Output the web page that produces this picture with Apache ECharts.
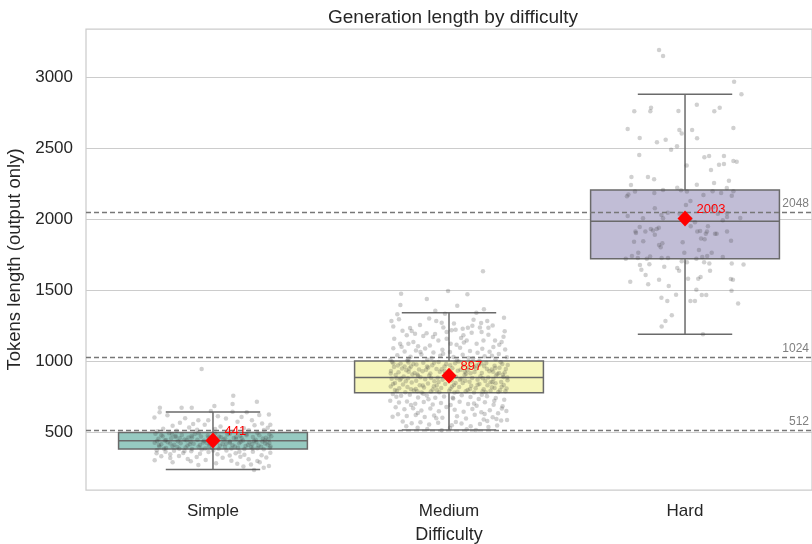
<!DOCTYPE html>
<html><head><meta charset="utf-8">
<script src="https://cdn.jsdelivr.net/npm/echarts@6/dist/echarts.min.js"></script>
<style>html,body{margin:0;padding:0;background:#fff}#c{width:812px;height:544px}</style>
</head><body><div id="c"></div>
<script>
const categories = ['Simple', 'Medium', 'Hard'];
// [min whisker, Q1, median, Q3, max whisker]
const simpleBox = [237, 380, 438, 496, 641];
const mediumBox = [515, 777, 885, 1000, 1340];
const hardBox = [1188, 1720, 1984, 2204, 2878];
const means = [441, 897, 2003];
const refLines = [512, 1024, 2048];
const yTicks = [500, 1000, 1500, 2000, 2500, 3000];
const boxColors = ['#96cac1', '#f6f6bc', '#c1bdd6'];

// jittered points: [offset from category, tokens]
const simplePoints = [
[-.048,944],[.086,756],[.186,713],[.083,697],[-.225,671],[-.226,639],[-.133,671],[-.090,671],[.006,683],[.083,643],[.143,639],[.237,624],[-.140,566],[-.062,584],[-.020,584],[.055,596],[.165,584],[.208,561],[.216,514],
[-.248,602],[-.193,618],[-.171,545],[-.118,598],[-.101,532],[-.035,551],[.021,612],[.032,539],[.104,573],[.121,606],[.131,527],[.176,548],[.232,531],[-.211,523],[-.154,509],[-.067,516],[.063,505],[.152,512],[-.236,505],[.243,552],[.009,521],[-.084,557],[.196,620],[-.009,649],
[-.244,488],[-.213,471],[-.186,492],[-.159,466],[-.132,479],[-.104,461],[-.077,486],[-.051,469],[-.022,476],[.009,490],[.034,463],[.061,482],[.088,458],[.115,474],[.142,487],[.169,465],[.196,478],[.224,460],[.247,471],
[-.231,452],[-.204,441],[-.177,457],[-.149,436],[-.121,448],[-.095,431],[-.066,445],[-.038,438],[-.011,454],[.017,429],[.045,447],[.072,434],[.099,451],[.127,440],[.154,427],[.181,446],[.209,433],[.236,449],
[-.247,424],[-.219,415],[-.192,428],[-.164,410],[-.137,421],[-.108,405],[-.082,418],[-.055,409],[-.026,423],[.002,412],[.029,403],[.056,419],[.083,407],[.111,422],[.138,401],[.166,414],[.193,406],[.221,420],[.244,398],
[-.227,396],[-.199,387],[-.171,399],[-.143,383],[-.116,392],[-.089,381],[-.061,397],[-.033,385],[-.004,391],[.024,382],[.051,395],[.078,384],[.106,389],[.133,380],[.161,394],[.188,386],[.215,379],[.241,390],
[-.158,473],[.052,455],[-.089,462],[.174,437],[-.013,417],[.121,459],[-.199,444],[.231,412],
[-.173,485],[-.061,491],[.071,488],[.188,493],[-.219,477],[-.091,472],[.026,469],[.142,478],[.239,482],[-.141,456],[-.019,461],[.098,465],[.211,455],[-.237,437],[-.112,443],[.009,446],[.117,432],[.221,441],[-.181,419],[-.042,427],[.071,425],[.183,429],[-.229,409],[-.098,414],[.041,416],[.148,408],[.239,423],[-.151,394],[-.017,400],[.093,398],[.204,396],[-.207,382],[-.048,378],[.168,384],
[-.238,372],[-.201,361],[-.165,368],[-.126,352],[-.092,365],[-.055,347],[-.019,359],[.019,344],[.057,370],[.096,351],[.133,340],[.169,362],[.206,336],[.243,355],
[-.121,366],[.112,362],[-.181,344],[.071,335],[.001,371],[-.239,350],
[-.219,329],[-.181,318],[-.144,332],[-.107,311],[-.069,325],[-.031,304],[.041,319],[.078,298],[.116,327],[.151,309],[.188,296],[.226,321],
[-.247,301],[-.171,287],[-.094,294],[.013,281],[.103,276],[.161,271],[.198,287],[.237,261],[.174,232],[-.062,268],[.215,249],[.129,258]
];
const mediumPoints = [
[.144,1632],[-.203,1474],[-.094,1437],[-.004,1493],[.078,1470],[-.206,1394],[.035,1389],[-.219,1329],[-.058,1354],[.148,1364],[.116,1340],[.233,1305],[-.244,1282],[-.212,1294],[-.017,1333],
[-.054,1282],[-.031,1270],[-.024,1237],[-.123,1254],[-.165,1232],[.058,1228],[.080,1235],[.099,1249],[.136,1268],[.162,1282],[.131,1237],[.167,1235],[.236,1209],[-.179,1181],[-.144,1192],[-.109,1176],[-.095,1195],[-.059,1190],[-.010,1204],[.011,1216],[.061,1181],[.096,1200],[.138,1204],[.167,1185],[.195,1145],[.223,1134],[-.207,1122],[-.172,1122],[-.151,1134],[-.081,1110],[-.045,1145],[-.010,1157],[.032,1115],[.075,1145],[.117,1122],[.146,1145],[.188,1099],[.238,1082],
[-.236,1090],[-.188,1068],[-.140,1075],[-.101,1088],[-.066,1060],[-.028,1079],[.004,1064],[.047,1093],[.089,1071],[.121,1058],[.172,1066],[.211,1049],[-.219,1041],[-.163,1030],[-.117,1046],[-.074,1022],[-.037,1037],[.019,1028],[.058,1044],[.102,1019],[.151,1033],[.197,1012],[.245,1027],[-.248,1008],[-.176,1003],[-.092,1011],[.033,1005],[.129,1002],[-.131,1105],[.007,1121],[.213,1115],[-.232,1157],[.051,1162],[-.197,1214],[.185,1250],[-.084,1300],[.104,1290],[-.236,1244],[.021,1265],
[-.172,1012],[.083,1022],[-.025,1052],[.182,1038],[-.121,1063],[.141,1087],[-.201,1101],[.063,1131],[-.068,1169],[.231,1171],[-.158,1211],[.028,1221],
[-.241,995],[-.205,982],[-.172,990],[-.138,976],[-.109,988],[-.071,970],[-.044,993],[-.012,979],[.026,985],[.061,968],[.093,991],[.127,974],[.158,987],[.193,966],[.226,980],[.249,972],
[-.233,958],[-.199,947],[-.161,961],[-.127,941],[-.088,955],[-.053,944],[-.019,962],[.014,950],[.049,938],[.083,957],[.115,946],[.149,963],[.181,940],[.214,952],[.241,944],
[-.246,930],[-.214,921],[-.181,935],[-.146,916],[-.112,928],[-.079,912],[-.039,925],[.004,918],[.037,931],[.072,910],[.108,923],[.139,915],[.171,929],[.205,908],[.236,920],
[-.226,902],[-.192,891],[-.155,905],[-.121,886],[-.084,898],[-.048,883],[-.009,894],[.029,889],[.066,901],[.098,880],[.133,893],[.166,884],[.199,899],[.231,887],
[-.243,875],[-.208,866],[-.174,879],[-.139,861],[-.101,872],[-.062,858],[-.027,869],[.011,863],[.053,876],[.087,855],[.121,868],[.154,860],[.188,873],[.221,852],[.248,865],
[-.229,846],[-.195,835],[-.158,849],[-.124,830],[-.089,842],[-.052,827],[-.016,839],[.021,832],[.058,845],[.094,826],[.129,838],[.163,829],[.197,843],[.232,831],
[-.247,820],[-.211,808],[-.176,817],[-.141,803],[-.106,814],[-.069,799],[-.033,811],[.006,805],[.043,818],[.079,797],[.113,809],[.147,801],[.182,815],[.216,794],[.244,806],
[-.221,789],[-.185,781],[-.149,792],[-.116,778],[-.077,786],[-.041,780],[.001,790],[.036,783],[.071,788],[.106,779],[.142,785],[.176,791],[.209,782],[.239,787],
[-.188,962],[.067,927],[-.131,897],[.184,851],[-.064,823],[.117,968],[-.222,878],[.028,846],[.212,916],[-.097,939],
[-.236,985],[-.151,979],[-.063,988],[.041,996],[.138,982],[.219,991],[-.217,969],[-.093,962],[.005,971],[.104,958],[.196,951],[-.168,948],[-.031,942],[.078,935],[.161,944],[-.247,912],[-.134,906],[-.017,909],[.091,914],[.228,903],[-.203,877],[-.076,881],[.046,869],[.143,878],[.247,884],[-.183,857],[-.044,852],[.069,861],[.176,850],[-.237,838],[-.111,827],[.013,821],[.121,833],[.223,819],[-.161,802],[-.051,796],[.089,803],[.193,810],[-.229,796],[-.134,788],[.023,779],[.156,781],[-.019,930],[.187,925],[-.171,924],
[-.238,768],[-.203,755],[-.166,762],[-.131,744],[-.094,758],[-.058,741],[-.021,750],[.018,737],[.054,760],[.091,746],[.126,733],[.161,752],[.198,739],[.234,727],
[-.109,770],[.139,763],[-.223,749],[.016,742],[.192,720],[-.087,731],[-.161,691],[.106,701],[-.011,676],[.224,665],[-.132,634],[.151,628],[-.054,598],[.201,592],[-.239,608],[.029,570],[-.181,540],[.162,577],
[-.249,721],[-.212,708],[-.178,716],[-.143,699],[-.107,712],[-.069,694],[-.034,705],[.007,690],[.045,714],[.081,698],[.117,686],[.152,709],[.189,692],[.227,681],
[-.226,674],[-.189,661],[-.152,668],[-.117,652],[-.079,665],[-.043,647],[.024,657],[.062,643],[.099,662],[.137,639],[.173,654],[.208,633],[.243,648],
[-.216,625],[-.179,613],[-.141,620],[-.103,606],[-.063,617],[-.028,600],[.034,611],[.072,596],[.109,622],[.147,589],[.185,604],[.221,581],
[-.196,575],[-.158,562],[-.121,569],[-.084,553],[-.046,566],[.012,548],[.053,561],[.092,541],[.131,556],[.167,535],[.204,547],[.246,585],
[-.133,530],[-.092,522],[.004,528],[.075,519],[.114,514],[-.031,512]
];
const hardPoints = [
[-.110,3190],[-.093,3148],[.208,2967],[.239,2878],[.050,2805],[-.215,2758],[-.144,2784],[-.147,2758],[-.028,2761],[.124,2758],[.147,2784],
[-.243,2634],[-.024,2627],[-.014,2603],[.030,2627],[.205,2641],[-.192,2570],[-.082,2559],[-.119,2540],[.051,2568],[-.034,2512],[-.059,2488],
[-.194,2451],[.007,2376],[.082,2435],[.102,2444],[.165,2444],[.205,2408],[.219,2404],[.144,2383],[.165,2387],[.110,2345],
[-.227,2296],[-.157,2296],[-.131,2280],[-.229,2239],[.186,2270],[.050,2242],[.123,2254],[-.033,2221],[.008,2193],[-.240,2172],[-.246,2160],
[-.212,2193],[-.130,2183],[-.093,2204],[-.017,2202],[.078,2169],[.117,2195],[.153,2183],[.177,2218],[.205,2195],[.198,2164],[.023,2127],
[-.243,2021],[-.178,2005],[-.128,2075],[-.100,2028],[-.093,2005],[-.073,2044],[-.023,2037],[.004,2099],[.023,2002],[.042,1977],[.120,2083],
[.139,2037],[.160,1991],[.178,2040],[.178,2014],[.234,2007],
[-.210,1913],[-.208,1901],[-.192,1944],[-.177,1843],[-.216,1840],[-.168,1913],[-.145,1930],[-.136,1920],[-.120,1930],[-.111,1939],[-.128,1890],
[-.110,1817],[-.103,1801],[-.096,1829],[-.010,1836],[.024,1949],[.052,1913],[.064,1916],[.068,1862],[.083,1857],[.088,1896],[.093,1913],
[.097,1949],[.127,1896],[.134,1896],[.178,1913],[.195,1847],[-.198,1763],[-.003,1763],[.059,1782],[.113,1763],
[-.251,1721],[-.225,1740],[-.200,1725],[-.162,1721],[-.148,1737],[-.099,1725],[-.072,1725],[.048,1721],[.073,1733],[.094,1740],[.160,1733],
[.008,1695],[-.014,1702],[-.191,1676],[-.151,1681],[.081,1695],[.103,1686],[.198,1686],[.248,1679],[-.185,1643],[-.088,1664],[-.033,1655],
[-.025,1636],[.106,1636],[-.167,1606],[-.232,1558],[-.156,1540],[-.110,1573],[-.069,1528],[.013,1580],[.056,1580],[.066,1592],[.194,1578],
[.203,1573],[.197,1495],[-.038,1467],[.048,1502],[.071,1465],[.090,1465],[-.100,1446],[-.075,1423],[.023,1423],[.042,1423],[.225,1406],
[-.056,1322],[-.083,1282],[-.099,1244],[.076,1188]
];

const FONT = '"Liberation Sans", Arial, sans-serif';
const TEXT = '#262626';
const chart = echarts.init(document.getElementById('c'));

const boxData = [simpleBox, mediumBox, hardBox].map((b, i) => [i].concat(b));
const toXY = (pts, i) => pts.map(p => [i + p[0], p[1]]);

function renderBox(params, api) {
  const i = api.value(0);
  const mn = api.value(1), q1 = api.value(2), md = api.value(3), q3 = api.value(4), mx = api.value(5);
  const hw = 0.4, cw = 0.2;
  const tl = api.coord([i - hw, q3]), br = api.coord([i + hw, q1]);
  const ln = (a, b) => ({ type: 'line', shape: { x1: a[0], y1: a[1], x2: b[0], y2: b[1] },
    style: { stroke: '#6a6a6a', lineWidth: 1.5 } });
  return { type: 'group', children: [
    ln(api.coord([i, q3]), api.coord([i, mx])),
    ln(api.coord([i, q1]), api.coord([i, mn])),
    ln(api.coord([i - cw, mx]), api.coord([i + cw, mx])),
    ln(api.coord([i - cw, mn]), api.coord([i + cw, mn])),
    { type: 'rect', shape: { x: tl[0], y: tl[1], width: br[0] - tl[0], height: br[1] - tl[1] },
      style: { fill: boxColors[i], stroke: '#6a6a6a', lineWidth: 1.5 } },
    ln(api.coord([i - hw, md]), api.coord([i + hw, md]))
  ] };
}

const ptStyle = { color: 'rgba(60,60,60,0.3)' };

chart.setOption({
  animation: false,
  backgroundColor: '#ffffff',
  textStyle: { fontFamily: FONT },
  title: { text: 'Generation length by difficulty', left: 448, top: 3, textAlign: 'center',
    textStyle: { fontFamily: FONT, fontSize: 19, fontWeight: 'normal', color: TEXT } },
  grid: { left: 86, right: 0, top: 29, bottom: 54, outerBoundsMode: 'none', containLabel: false,
    show: true, borderColor: '#cccccc', borderWidth: 1.25, backgroundColor: 'transparent' },
  xAxis: { type: 'value', min: -0.538, max: 2.538,
    name: 'Difficulty', nameLocation: 'middle', nameGap: 36,
    nameTextStyle: { fontFamily: FONT, fontSize: 18, color: TEXT },
    axisLine: { show: false }, axisTick: { show: false }, splitLine: { show: false },
    axisLabel: { customValues: [0, 1, 2], formatter: v => categories[Math.round(v)] || '',
      fontFamily: FONT, fontSize: 17, color: TEXT, margin: 13 } },
  yAxis: { type: 'value', min: 92, max: 3338,
    name: 'Tokens length (output only)', nameLocation: 'middle', nameGap: 56,
    nameTextStyle: { fontFamily: FONT, fontSize: 18.5, color: TEXT },
    axisLine: { show: false },
    axisTick: { show: false, customValues: yTicks },
    axisLabel: { customValues: yTicks, formatter: v => String(v), fontFamily: FONT, fontSize: 17, color: TEXT, margin: 13 },
    splitLine: { show: true, lineStyle: { color: '#cccccc', width: 1.2 } } },
  series: [
    { type: 'custom', renderItem: renderBox, data: boxData, encode: { x: 0, y: [1, 2, 3, 4, 5] }, z: 2, silent: true },
    { type: 'scatter', data: toXY(simplePoints, 0), symbolSize: 4.5, itemStyle: ptStyle, z: 3, silent: true },
    { type: 'scatter', data: toXY(mediumPoints, 1), symbolSize: 4.5, itemStyle: ptStyle, z: 3, silent: true },
    { type: 'scatter', data: toXY(hardPoints, 2), symbolSize: 4.5, itemStyle: ptStyle, z: 3, silent: true },
    { type: 'scatter', data: means.map((m, i) => [i, m]), symbol: 'diamond', symbolSize: [15, 16],
      itemStyle: { color: '#ff0000', opacity: 1 }, z: 6, silent: true,
      label: { show: true, position: 'right', distance: 4, offset: [0, -9], formatter: p => String(p.value[1]),
        color: '#ff0000', fontSize: 13, fontFamily: FONT },
      markLine: { silent: true, symbol: ['none', 'none'], z: 4,
        lineStyle: { color: '#777777', type: [5, 3], width: 1.4 },
        label: { show: true, position: 'insideEndTop', formatter: p => String(p.value), color: '#808080', fontSize: 12, fontFamily: FONT, distance: 3 },
        data: refLines.map(v => ({ yAxis: v })) } }
  ]
});
</script></body></html>
